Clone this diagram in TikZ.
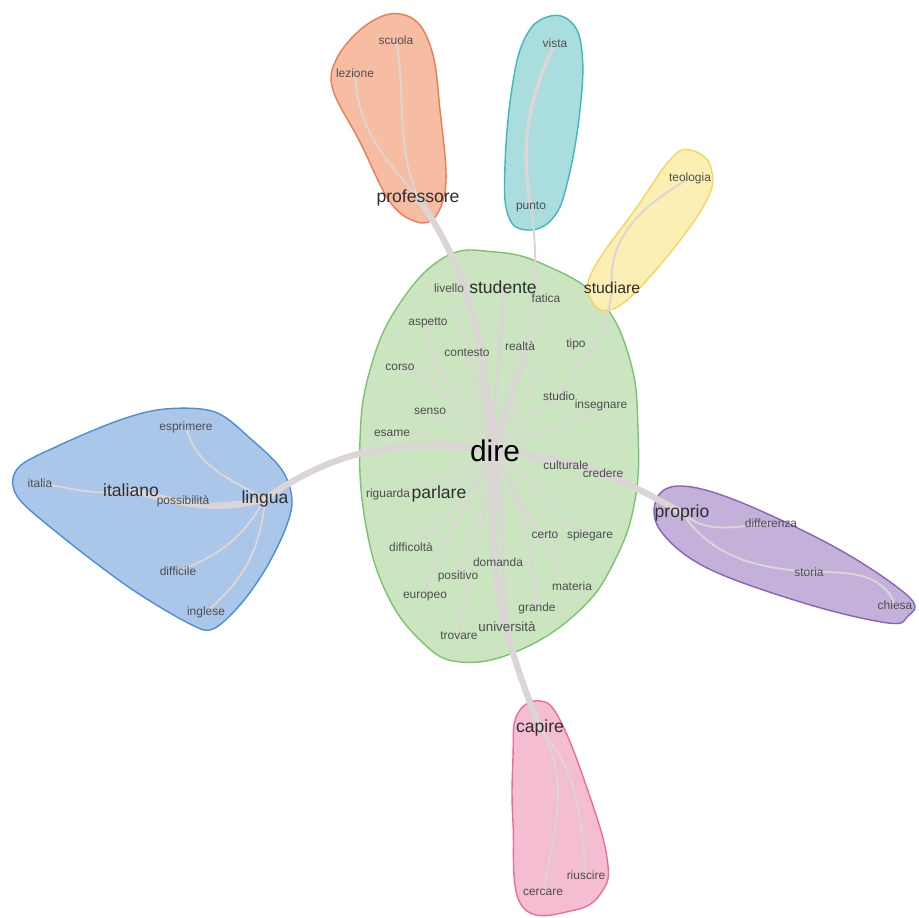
\documentclass[tikz,border=0pt]{standalone}
\usepackage{fontspec}
\setmainfont{Liberation Sans}

\definecolor{greenfill}{HTML}{CBE5C1}
\definecolor{greenline}{HTML}{7CC36E}
\definecolor{bluefill}{HTML}{AAC6E8}
\definecolor{blueline}{HTML}{4A8FD8}
\definecolor{orangefill}{HTML}{F7BDA2}
\definecolor{orangeline}{HTML}{F07A52}
\definecolor{tealfill}{HTML}{AADDDD}
\definecolor{tealline}{HTML}{3FB8C0}
\definecolor{yellowfill}{HTML}{FCEFB3}
\definecolor{yellowline}{HTML}{F5D562}
\definecolor{purplefill}{HTML}{C4B1DA}
\definecolor{purpleline}{HTML}{8A62B8}
\definecolor{pinkfill}{HTML}{F5BDD2}
\definecolor{pinkline}{HTML}{EE6C9B}
\definecolor{linkgrey}{HTML}{DCD5D5}
\definecolor{wordgrey}{HTML}{4E4E4E}

\pgfdeclarelayer{blobs}
\pgfdeclarelayer{links}
\pgfsetlayers{blobs,links,main}

\tikzset{
    word/.style={inner sep=0pt,text=wordgrey,font=\fontsize{6.8}{7}\selectfont},
    keyword/.style={inner sep=0pt,text=black!82,font=\fontsize{10}{11}\selectfont},
    hub/.style={inner sep=0pt,text=black,font=\fontsize{17}{18}\selectfont},
    blob/.style={line width=0.8pt},
    thin link/.style={draw=linkgrey,line width=1.1pt},
    mid link/.style={draw=linkgrey,line width=2pt},
    heavy link/.style={draw=linkgrey,line width=3.6pt}
}

\begin{document}
\begin{tikzpicture}[x=0.02cm,y=0.02cm]
    \useasboundingbox (0,0) rectangle (919,918);

    \begin{pgfonlayer}{blobs}
        % clusters %
        \draw[blob,fill=greenfill,draw=greenline] plot[smooth cycle,tension=0.7] coordinates
            {(445,661) (495,666) (545,653) (600,618) (630,558) (638,488) (635,418) (615,358) (580,308) (520,268) (460,256) (420,278) (385,328) (365,398) (360,478) (370,548) (398,612)};
        \draw[blob,fill=bluefill,draw=blueline] plot[smooth cycle,tension=0.55] coordinates
            {(18,450) (60,473) (120,498) (165,509) (215,506) (252,478) (282,448) (292,418) (285,388) (265,348) (240,313) (213,289) (190,294) (130,330) (60,383) (17,422)};
        \draw[blob,fill=orangefill,draw=orangeline] plot[smooth cycle,tension=0.6] coordinates
            {(336,858) (360,888) (390,904) (417,896) (433,863) (440,808) (446,738) (436,702) (417,696) (390,716) (360,776) (333,828)};
        \draw[blob,fill=tealfill,draw=tealline] plot[smooth cycle,tension=0.7] coordinates
            {(547,901) (571,896) (582,866) (580,808) (568,738) (553,700) (527,688) (508,703) (505,753) (512,830) (525,880)};
        \draw[blob,fill=yellowfill,draw=yellowline] plot[smooth cycle,tension=0.7] coordinates
            {(690,768) (711,750) (703,711) (647,638) (610,608) (590,621) (594,650) (637,711) (670,758)};
        \draw[blob,fill=purplefill,draw=purpleline] plot[smooth cycle,tension=0.6] coordinates
            {(657,420) (682,432) (740,416) (840,368) (910,320) (907,301) (888,295) (807,314) (707,350) (660,388)};
        \draw[blob,fill=pinkfill,draw=pinkline] plot[smooth cycle,tension=0.7] coordinates
            {(540,217) (561,196) (590,121) (607,60) (603,28) (575,8) (522,12) (513,95) (513,161) (517,203)};
    \end{pgfonlayer}

    \node[hub] (dire) at (495,467) {dire};

    \begin{scope}[every node/.style={word}]
        \node (livello) at (449,630) {livello};
        \node (fatica) at (546,620) {fatica};
        \node (aspetto) at (428,595) {aspetto};
        \node (contesto) at (467,565) {contesto};
        \node (realta) at (520,572) {realtà};
        \node (tipo) at (576,574) {tipo};
        \node (corso) at (400,551) {corso};
        \node (studio) at (559,522) {studio};
        \node (insegnare) at (601,513) {insegnare};
        \node (senso) at (430,507) {senso};
        \node (esame) at (392,485) {esame};
        \node (culturale) at (566,453) {culturale};
        \node (credere) at (603,445) {credere};
        \node (riguarda) at (388,424) {riguarda};
        \node (certo) at (545,383) {certo};
        \node (spiegare) at (590,383) {spiegare};
        \node (difficolta) at (411,371) {difficoltà};
        \node (domanda) at (498,356) {domanda};
        \node (positivo) at (458,342) {positivo};
        \node (materia) at (572,332) {materia};
        \node (europeo) at (425,321) {europeo};
        \node (grande) at (537,310) {grande};
        \node (trovare) at (459,282) {trovare};
        \node[font=\fontsize{7.6}{8}\selectfont] (universita) at (507,291) {università};
        % satellites %
        \node (esprimere) at (186,491) {esprimere};
        \node (italia) at (40,435) {italia};
        \node (possibilita) at (183,417) {possibilità};
        \node (difficile) at (178,347) {difficile};
        \node (inglese) at (206,306) {inglese};
        \node (scuola) at (396,878) {scuola};
        \node (lezione) at (355,845) {lezione};
        \node (vista) at (555,875) {vista};
        \node (punto) at (531,711) {punto};
        \node (teologia) at (690,740) {teologia};
        \node (differenza) at (771,395) {differenza};
        \node (storia) at (809,346) {storia};
        \node (chiesa) at (895,313) {chiesa};
        \node (riuscire) at (586,43) {riuscire};
        \node (cercare) at (543,26) {cercare};
    \end{scope}

    \begin{scope}[every node/.style={keyword}]
        \node (studente) at (503,631) {studente};
        \node (parlare) at (439,424) {parlare};
        \node (italiano) at (131,428) {italiano};
        \node (lingua) at (265,419) {lingua};
        \node (professore) at (418,720) {professore};
        \node[font=\fontsize{9}{10}\selectfont] (studiare) at (612,630) {studiare};
        \node (proprio) at (682,405) {proprio};
        \node (capire) at (540,190) {capire};
    \end{scope}

    \begin{pgfonlayer}{links}
    \begin{scope}[every edge/.style={heavy link}]
        \path (dire.center) edge [out=172,in=35] (lingua.center);
        \path (dire.center) edge [out=98,in=-55] (professore.center);
        \path (dire.center) edge [out=-95,in=112] (capire.center);
        \path (dire.center) edge [out=-5,in=150] (proprio.center);
        \path (lingua.center) edge [out=195,in=-15] (italiano.center);
    \end{scope}

    \begin{scope}[every edge/.style={mid link}]
        \path (dire.center) edge [out=92,in=-90] (studente.center);
        \path (dire.center) edge [out=-80,in=95] (universita.center);
        \path (punto.center) edge [out=100,in=-115] (vista.center);
    \end{scope}

    \begin{scope}[every edge/.style={thin link}]
        % around dire %
        \path (dire.center) edge [out=102,in=-70] (livello.center);
        \path (dire.center) edge [out=80,in=-100] (fatica.center);
        \path (dire.center) edge [out=118,in=-88] (aspetto.center);
        \path (dire.center) edge [out=108,in=-82] (contesto.center);
        \path (dire.center) edge [out=86,in=-95] (realta.center);
        \path (dire.center) edge [out=68,in=-140] (tipo.center);
        \path (dire.center) edge [out=140,in=-15] (corso.center);
        \path (dire.center) edge [out=150,in=-40] (senso.center);
        \path (dire.center) edge [out=168,in=0] (esame.center);
        \path (dire.center) edge [out=48,in=-150] (studio.center);
        \path (dire.center) edge [out=28,in=-140] (insegnare.center);
        \path (dire.center) edge [out=-12,in=170] (culturale.center);
        \path (dire.center) edge [out=-5,in=160] (credere.center);
        \path (dire.center) edge [out=-130,in=30] (parlare.center);
        \path (dire.center) edge [out=-150,in=15] (riguarda.center);
        \path (dire.center) edge [out=-120,in=35] (difficolta.center);
        \path (dire.center) edge [out=-110,in=80] (europeo.center);
        \path (dire.center) edge [out=-100,in=75] (positivo.center);
        \path (dire.center) edge [out=-95,in=85] (trovare.center);
        \path (dire.center) edge [out=-80,in=100] (domanda.center);
        \path (dire.center) edge [out=-65,in=95] (grande.center);
        \path (dire.center) edge [out=-55,in=140] (certo.center);
        \path (dire.center) edge [out=-35,in=160] (spiegare.center);
        \path (dire.center) edge [out=-60,in=125] (materia.center);
        \path (dire.center) edge [out=72,in=-82] (punto.center);
        \path (studio.center) edge [out=55,in=-95] (studiare.center);
        % satellites %
        \path (studiare.center) edge [out=95,in=-150] (teologia.center);
        \path (professore.center) edge [out=130,in=-88] (lezione.center);
        \path (professore.center) edge [out=112,in=-80] (scuola.center);
        \path (lingua.center) edge [out=150,in=-75] (esprimere.center);
        \path (lingua.center) edge [out=-120,in=20] (difficile.center);
        \path (lingua.center) edge [out=-95,in=40] (inglese.center);
        \path (lingua.center) edge [out=185,in=-10] (possibilita.center);
        \path (italiano.center) edge [out=190,in=-10] (italia.center);
        \path (proprio.center) edge [out=-40,in=185] (differenza.center);
        \path (proprio.center) edge [out=-55,in=175] (storia.center);
        \path (storia.center) edge [out=0,in=110] (chiesa.center);
        \path (capire.center) edge [out=-60,in=80] (cercare.center);
        \path (capire.center) edge [out=-50,in=95] (riuscire.center);
    \end{scope}
    \end{pgfonlayer}

\end{tikzpicture}
\end{document}
